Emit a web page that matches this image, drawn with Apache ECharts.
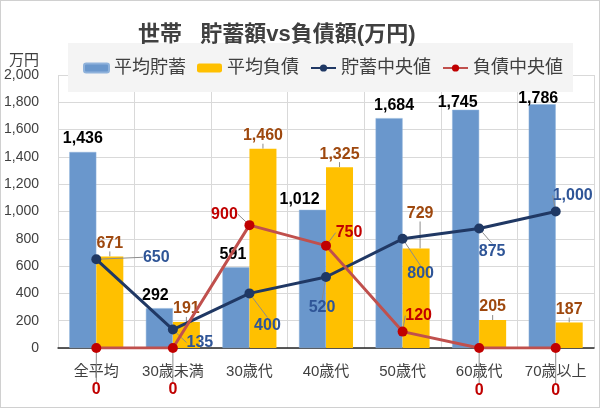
<!DOCTYPE html>
<html>
<head>
<meta charset="utf-8">
<script src="https://cdn.jsdelivr.net/npm/echarts@6/dist/echarts.min.js"></script>
<style>
  html, body { margin: 0; padding: 0; background: #fff; }
  #chart { width: 598px; height: 406px; border: 1px solid #d0d0d0; }
</style>
</head>
<body>
<div id="chart"></div>
<script>
const categories = ["全平均", "30歳未満", "30歳代", "40歳代", "50歳代", "60歳代", "70歳以上"];
const avgSavings = [1436, 292, 591, 1012, 1684, 1745, 1786];
const avgDebt = [671, 191, 1460, 1325, 729, 205, 187];
const medianSavings = [650, 135, 400, 520, 800, 875, 1000];
const medianDebt = [0, 0, 900, 750, 120, 0, 0];

// label shifts (px) from the default label spot
const savBarShift = [[0, 0], [-4, 0], [-3, 0], [-13, 3], [5, 0], [-8, 6], [-4, 7]];
const debtBarShift = [[0, 0], [0, 0], [0, 0], [0, 0], [4, -22], [0, 0], [0, 0]];
const medSavShift = [[60, -2], [27, 13], [18, 32], [-4, 31], [18, 35], [13, 23], [17, -16]];
const medDebtShift = [[0, 42], [0, 42], [-25, -11], [23, -13], [16, -16], [0, 43], [0, 43]];

const FONT = "Liberation Sans, Noto Sans CJK JP, sans-serif";

function shiftLayout(shifts) {
    return function (params) {
        const s = shifts[params.dataIndex] || [0, 0];
        return { dx: s[0], dy: s[1] };
    };
}

const leader = { show: true, lineStyle: { color: "#8c8c8c", width: 1 } };

const chart = echarts.init(document.getElementById("chart"));

chart.setOption({
    animation: false,
    textStyle: { fontFamily: FONT },
    title: {
        text: "世帯   貯蓄額vs負債額(万円)",
        left: 132,
        top: 18,
        textStyle: { fontSize: 22, fontWeight: "bold", color: "#404040", fontFamily: FONT }
    },
    legend: {
        left: 67,
        top: 42,
        z: 1,
        backgroundColor: "#f4f4f4",
        padding: [16, 10, 15, 15],
        itemGap: 11,
        itemWidth: 25,
        itemHeight: 9,
        textStyle: { fontSize: 18, color: "#404040", fontFamily: FONT },
        data: ["平均貯蓄", "平均負債", "貯蓄中央値", "負債中央値"]
    },
    grid: { left: 57, right: 5, top: 74, bottom: 59 },
    xAxis: {
        type: "category",
        data: categories,
        axisLine: { lineStyle: { color: "#262626", width: 1.5 } },
        axisTick: { show: false },
        splitLine: { show: true, lineStyle: { color: "#d9d9d9" } },
        axisLabel: { fontSize: 15, color: "#404040", margin: 16, interval: 0 }
    },
    yAxis: {
        type: "value",
        min: 0,
        max: 2000,
        interval: 200,
        name: "万円",
        nameLocation: "end",
        nameGap: 7,
        nameTextStyle: { fontSize: 15, color: "#404040", align: "right", padding: [0, 19, 0, 0] },
        axisLine: { show: false },
        axisTick: { show: false },
        splitLine: { lineStyle: { color: "#d9d9d9" } },
        axisLabel: {
            fontSize: 14,
            color: "#404040",
            margin: 19,
            formatter: v => v.toLocaleString("en-US")
        }
    },
    series: [
        {
            name: "平均貯蓄",
            type: "bar",
            data: avgSavings,
            barWidth: 27,
            barGap: "0%",
            z: 3,
            itemStyle: { color: "#6a97cc", borderColor: "#8fb2db", borderWidth: 0.5 },
            label: {
                show: true,
                position: "top",
                fontSize: 16,
                fontWeight: "bold",
                color: "#000",
                formatter: p => p.value.toLocaleString("en-US")
            },
            labelLayout: shiftLayout(savBarShift)
        },
        {
            name: "平均負債",
            type: "bar",
            data: avgDebt,
            barWidth: 27,
            z: 3,
            itemStyle: { color: "#ffc000" },
            label: {
                show: true,
                position: "top",
                fontSize: 16,
                fontWeight: "bold",
                color: "#9e480e",
                formatter: p => p.value.toLocaleString("en-US")
            },
            labelLine: leader,
            labelLayout: shiftLayout(debtBarShift)
        },
        {
            name: "貯蓄中央値",
            type: "line",
            data: medianSavings,
            symbol: "circle",
            symbolSize: 10,
            z: 5,
            lineStyle: { color: "#203864", width: 3 },
            itemStyle: { color: "#1f3864" },
            label: {
                show: true,
                position: "inside",
                fontSize: 16,
                fontWeight: "bold",
                color: "#2f5597",
                formatter: p => p.value.toLocaleString("en-US")
            },
            labelLine: leader,
            labelLayout: shiftLayout(medSavShift)
        },
        {
            name: "負債中央値",
            type: "line",
            data: medianDebt,
            symbol: "circle",
            symbolSize: 10,
            z: 6,
            lineStyle: { color: "#c0504d", width: 3 },
            itemStyle: { color: "#c00000" },
            label: {
                show: true,
                position: "inside",
                fontSize: 16,
                fontWeight: "bold",
                color: "#c00000",
                formatter: p => p.value.toLocaleString("en-US")
            },
            labelLine: leader,
            labelLayout: shiftLayout(medDebtShift)
        }
    ]
});
</script>
</body>
</html>
